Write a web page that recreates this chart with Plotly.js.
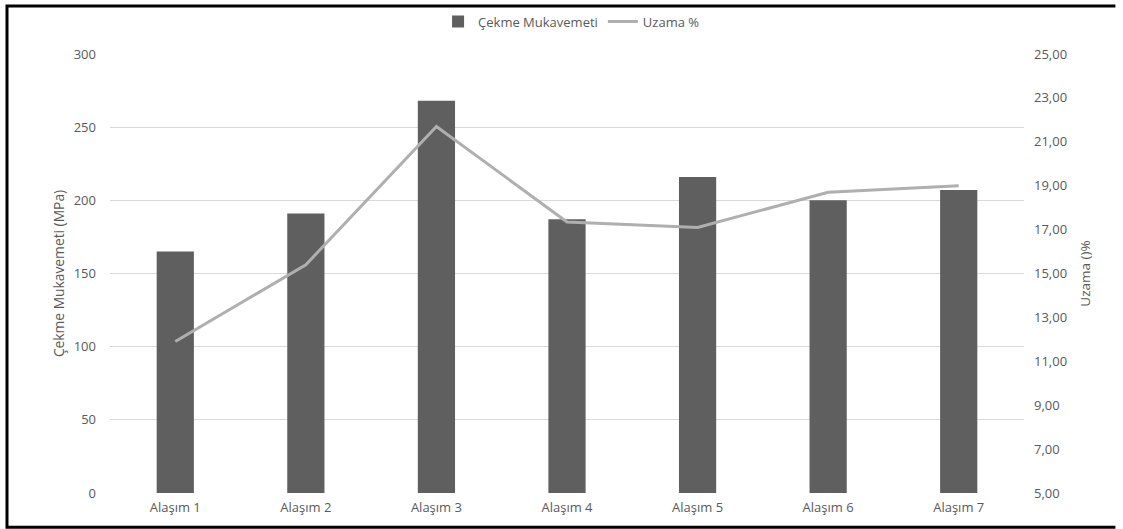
<!DOCTYPE html>
<html>
<head>
<meta charset="utf-8">
<script src="https://cdn.plot.ly/plotly-3.0.1.min.js"></script>
<style>
  html, body { margin: 0; padding: 0; background: #ffffff; overflow: hidden; }
  #chart { width: 1123px; height: 529px; }
</style>
</head>
<body>
<div id="chart"></div>
<script>
// Alloy names along the category axis
const alloys = ["Alaşım 1", "Alaşım 2", "Alaşım 3", "Alaşım 4", "Alaşım 5", "Alaşım 6", "Alaşım 7"];
// Tensile strength (MPa), left axis
const tensileStrength = [165, 191, 268, 187, 216, 200, 207];
// Elongation (%), right axis
const elongation = [11.9, 15.4, 21.7, 17.35, 17.1, 18.7, 19.0];
// Right-axis tick values
const elongationTicks = [5, 7, 9, 11, 13, 15, 17, 19, 21, 23, 25];

const FONT = "'Open Sans', Lato, 'Liberation Sans', sans-serif";
const TEXT = "#595959";

const traces = [
  {
    type: "bar",
    name: "Çekme Mukavemeti",
    x: alloys,
    y: tensileStrength,
    marker: { color: "#5f5f5f", line: { width: 0 } },
    yaxis: "y"
  },
  {
    type: "scatter",
    mode: "lines",
    name: "Uzama %",
    x: alloys,
    y: elongation,
    line: { color: "#afafaf", width: 3 },
    yaxis: "y2"
  }
];

// Outer frame: top, left and bottom edges, open on the right
const frameLine = { color: "#000000", width: 3 };
const FX0 = -0.1127, FX1 = 1.1, FY0 = -0.0778, FY1 = 1.1096;
const frame = [
  { type: "path", xref: "paper", yref: "paper",
    path: `M ${FX1} ${FY1} L ${FX0} ${FY1} L ${FX0} ${FY0} L ${FX1} ${FY0}`,
    line: frameLine, fillcolor: "rgba(0,0,0,0)", layer: "above" }
];

const layout = {
  width: 1123,
  height: 529,
  margin: { l: 110, r: 99, t: 53.5, b: 35.7, pad: 0, autoexpand: false },
  paper_bgcolor: "#ffffff",
  plot_bgcolor: "#ffffff",
  separators: ",.",
  font: { family: FONT, size: 13, color: TEXT },
  bargap: 0.715,
  showlegend: true,
  legend: {
    orientation: "h",
    x: 0.505, xanchor: "center",
    y: 1.074, yanchor: "middle",
    font: { family: FONT, size: 13, color: TEXT },
    itemwidth: 30,
    tracegroupgap: 0,
    bgcolor: "rgba(0,0,0,0)"
  },
  xaxis: {
    type: "category",
    showgrid: false,
    zeroline: false,
    showline: false,
    ticks: "",
    ticklabelstandoff: 5,
    tickfont: { family: FONT, size: 13, color: TEXT }
  },
  yaxis: {
    range: [0, 300],
    tickvals: [0, 50, 100, 150, 200, 250, 300],
    showgrid: true,
    gridcolor: "#d9d9d9",
    gridwidth: 1,
    zeroline: false,
    showline: false,
    ticks: "",
    ticklabelstandoff: 13,
    tickfont: { family: FONT, size: 13, color: TEXT },
    title: { text: "Çekme Mukavemeti (MPa)", standoff: 5, font: { family: FONT, size: 13.8, color: TEXT } }
  },
  yaxis2: {
    overlaying: "y",
    side: "right",
    range: [5, 25],
    tickvals: elongationTicks,
    tickformat: ".2f",
    showgrid: false,
    zeroline: false,
    showline: false,
    ticks: "",
    ticklabelstandoff: 9,
    tickfont: { family: FONT, size: 13, color: TEXT },
    title: { text: "Uzama ()%", standoff: 14, font: { family: FONT, size: 13.5, color: TEXT } }
  },
  shapes: frame
};

Plotly.newPlot("chart", traces, layout, { displayModeBar: false, staticPlot: true });
</script>
</body>
</html>
